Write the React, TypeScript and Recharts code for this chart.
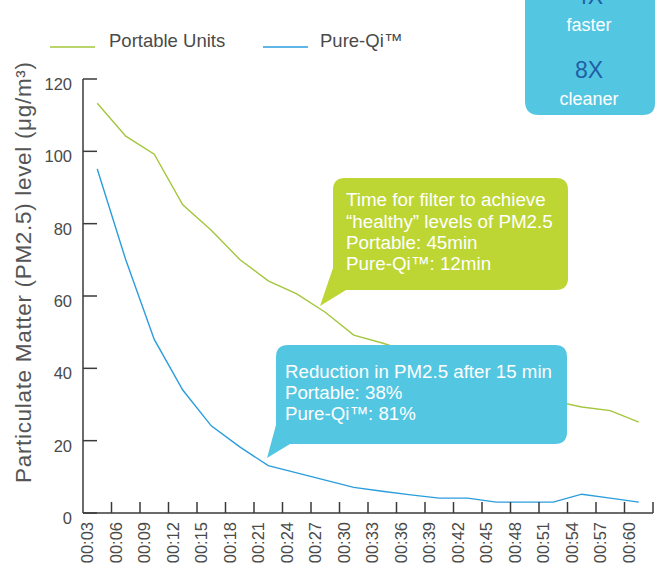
import React from 'react';
import { ComposedChart, Line, XAxis, YAxis } from 'recharts';

const categories = ['00:03','00:06','00:09','00:12','00:15','00:18','00:21','00:24','00:27','00:30','00:33','00:36','00:39','00:42','00:45','00:48','00:51','00:54','00:57','00:60'];
const portableUnits = [113.3, 104.2, 99.2, 85.2, 78.2, 70.1, 64.2, 60.6, 55.5, 49.2, 47, 44.5, 41.5, 38.5, 35.5, 33, 31, 29.3, 28.3, 25.1];
const pureQi = [95.1, 70, 48, 34, 24.1, 18.3, 13.1, 11.1, 9.1, 7.1, 6, 5, 4.1, 4.1, 3, 3, 3, 5.2, 4.1, 3];
const yTicks = [0, 20, 40, 60, 80, 100, 120];

const data = categories.map((t, i) => ({ t, portable: portableUnits[i], pureqi: pureQi[i] }));

const W = 655;
const H = 567;
const M_TOP = 79;
const M_RIGHT = 2;
const Y_W = 83;
const X_H = 54;
const PLOT_LEFT = Y_W;
const PLOT_BOTTOM = H - X_H;
const PLOT_W = W - Y_W - M_RIGHT;
const BAND = PLOT_W / categories.length;

const FONT = '"Liberation Sans", Arial, Helvetica, sans-serif';
const AXIS = '#3a3a3a';
const TEXT = '#4a4a4a';
const GREEN_LINE = '#a3c63c';
const BLUE_LINE = '#2a9ddc';
const GREEN_BOX = '#bdd633';
const BLUE_BOX = '#53c6e2';

const XTick = (props: any) => {
  const { x, payload } = props;
  const lx = x - BAND / 2 + 4;
  const ly = PLOT_BOTTOM + 9;
  return (
    <g>
      <line x1={x + BAND / 2} y1={PLOT_BOTTOM} x2={x + BAND / 2} y2={PLOT_BOTTOM - 11} stroke={AXIS} strokeWidth={1.5} />
      <text
        x={lx}
        y={ly}
        transform={`rotate(-90 ${lx} ${ly})`}
        textAnchor="end"
        dominantBaseline="central"
        fontSize={16.5}
        fontFamily={FONT}
        fill={TEXT}
      >
        {payload.value}
      </text>
    </g>
  );
};

const YTick = (props: any) => {
  const { y, payload } = props;
  return (
    <g>
      <line x1={PLOT_LEFT} y1={y} x2={PLOT_LEFT + 14} y2={y} stroke={AXIS} strokeWidth={1.5} />
      <text x={72} y={y + 5} textAnchor="end" dominantBaseline="central" fontSize={16.5} fontFamily={FONT} fill={TEXT}>
        {payload.value}
      </text>
    </g>
  );
};

export default function App() {
  return (
    <div style={{ position: 'absolute', left: 0, top: 0, width: W, height: H, background: '#fff', overflow: 'hidden' }}>
      <ComposedChart width={W} height={H} data={data} margin={{ top: M_TOP, right: M_RIGHT, bottom: 0, left: 0 }}>
        <XAxis
          dataKey="t"
          type="category"
          scale="band"
          height={X_H}
          interval={0}
          tickLine={false}
          axisLine={{ stroke: AXIS, strokeWidth: 1.5 }}
          tick={<XTick />}
        />
        <YAxis
          type="number"
          domain={[0, 120]}
          ticks={yTicks}
          width={Y_W}
          tickLine={false}
          axisLine={{ stroke: AXIS, strokeWidth: 1.5 }}
          tick={<YTick />}
          interval={0}
        />
        <Line type="linear" dataKey="portable" stroke={GREEN_LINE} strokeWidth={1.4} dot={false} isAnimationActive={false} />
        <Line type="linear" dataKey="pureqi" stroke={BLUE_LINE} strokeWidth={1.4} dot={false} isAnimationActive={false} />
      </ComposedChart>
      <svg width={W} height={H} style={{ position: 'absolute', left: 0, top: 0, pointerEvents: 'none' }} fontFamily={FONT}>
        <text
          x={23}
          y={272.5}
          transform="rotate(-90 23 272.5)"
          textAnchor="middle"
          dominantBaseline="central"
          fontSize={22.5}
          textLength={421}
          lengthAdjust="spacing"
          fill="#555"
        >
          Particulate Matter (PM2.5) level (μg/m³)
        </text>
        <line x1={50} y1={47} x2={95} y2={47} stroke={GREEN_LINE} strokeWidth={1.5} />
        <text x={109} y={47} fontSize={18.5} fill={TEXT}>Portable Units</text>
        <line x1={263} y1={47} x2={308} y2={47} stroke={BLUE_LINE} strokeWidth={1.5} />
        <text x={320} y={47} fontSize={18.5} fill={TEXT}>Pure-Qi™</text>
        <path d="M 525 -10 H 655 V 103 Q 655 115 643 115 H 539 Q 525 115 525 101 Z" fill={BLUE_BOX} />
        <text x={589} y={4} textAnchor="middle" fontSize={23} fill="#1f5fa6">4X</text>
        <text x={589} y={31} textAnchor="middle" fontSize={18} fill="#fff">faster</text>
        <text x={589} y={78} textAnchor="middle" fontSize={23} fill="#1f5fa6">8X</text>
        <text x={589} y={104.5} textAnchor="middle" fontSize={18} fill="#fff">cleaner</text>
        <path d="M 345 178 H 556 Q 568 178 568 190 V 278 Q 568 290 556 290 H 346 L 320 306 L 333 268 V 190 Q 333 178 345 178 Z" fill={GREEN_BOX} />
        <text x={346} y={205.5} fontSize={18.8} fill="#fff">Time for filter to achieve</text>
        <text x={346} y={227.5} fontSize={18.8} fill="#fff">“healthy” levels of PM2.5</text>
        <text x={346} y={248.5} fontSize={18.8} fill="#fff">Portable: 45min</text>
        <text x={346} y={269.5} fontSize={18.8} fill="#fff">Pure-Qi™: 12min</text>
        <path d="M 288 345 H 555 Q 567 345 567 357 V 432 Q 567 444 555 444 H 290 L 267 458 L 276 425 V 357 Q 276 345 288 345 Z" fill={BLUE_BOX} />
        <text x={285} y={377.5} fontSize={18.7} fill="#fff">Reduction in PM2.5 after 15 min</text>
        <text x={285} y={398.5} fontSize={18.7} fill="#fff">Portable: 38%</text>
        <text x={285} y={419.5} fontSize={18.7} fill="#fff">Pure-Qi™: 81%</text>
      </svg>
    </div>
  );
}
